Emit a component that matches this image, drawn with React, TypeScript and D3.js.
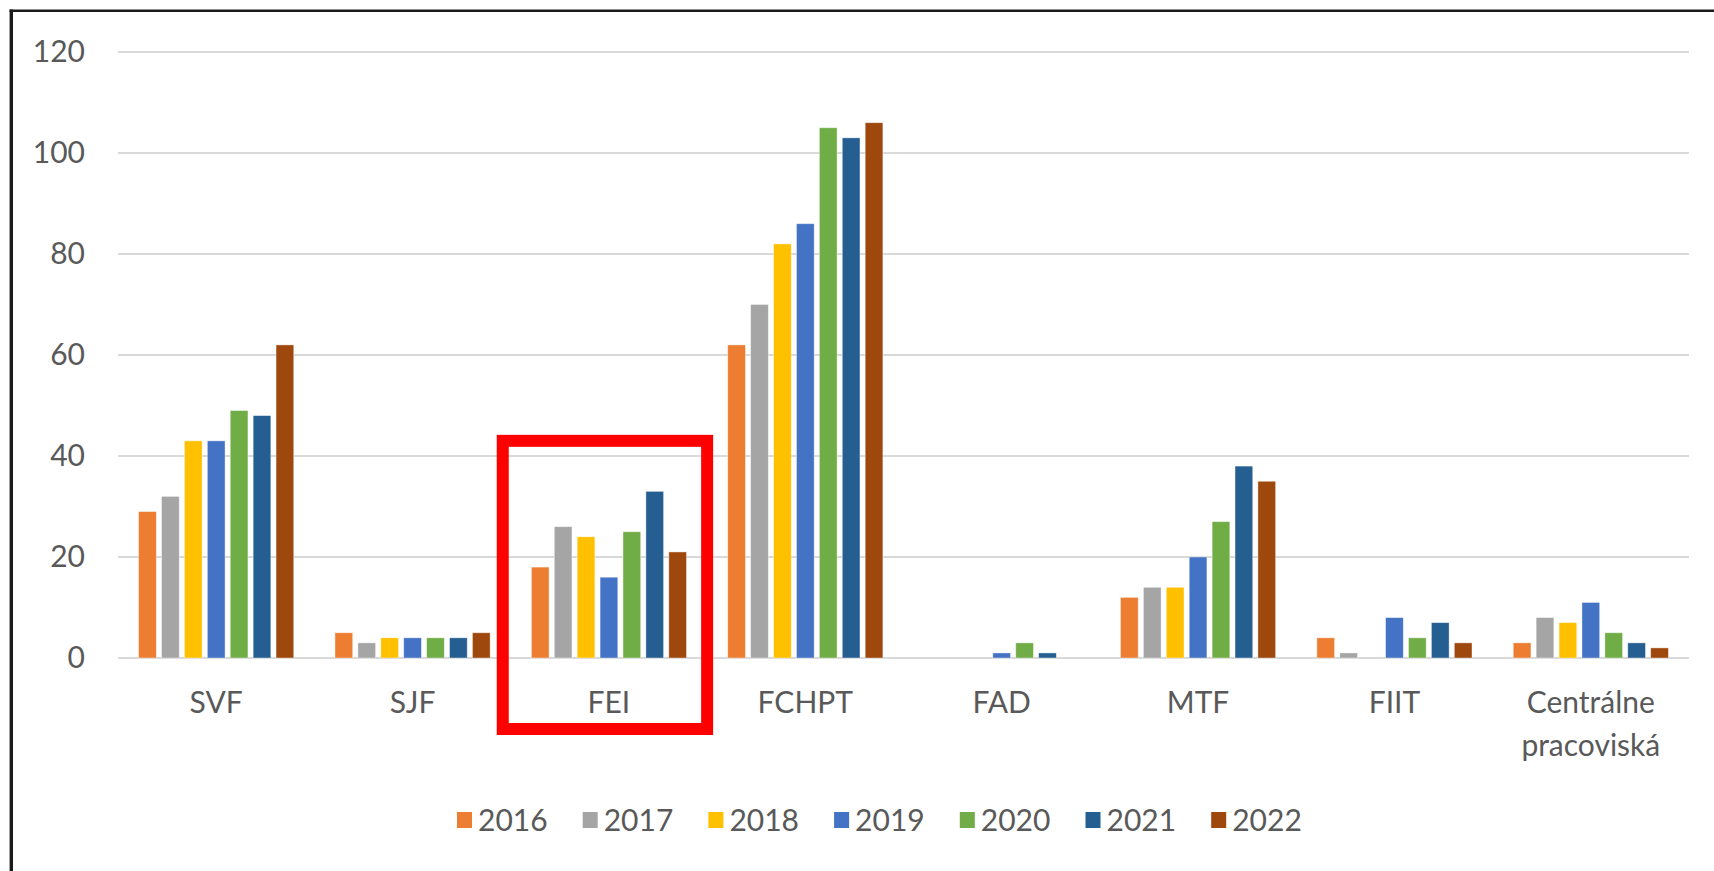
import React from "react";
import * as d3 from "d3";

const categories = ["SVF", "SJF", "FEI", "FCHPT", "FAD", "MTF", "FIIT", "Centrálne\npracoviská"];
const years = ["2016", "2017", "2018", "2019", "2020", "2021", "2022"];
const colors = ["#ED7D31", "#A5A5A5", "#FFC000", "#4472C4", "#70AD47", "#255E91", "#9E480E"];

const v2016 = [29, 5, 18, 62, 0, 12, 4, 3];
const v2017 = [32, 3, 26, 70, 0, 14, 1, 8];
const v2018 = [43, 4, 24, 82, 0, 14, 0, 7];
const v2019 = [43, 4, 16, 86, 1, 20, 8, 11];
const v2020 = [49, 4, 25, 105, 3, 27, 4, 5];
const v2021 = [48, 4, 33, 103, 1, 38, 7, 3];
const v2022 = [62, 5, 21, 106, 0, 35, 3, 2];
const series = [v2016, v2017, v2018, v2019, v2020, v2021, v2022];

const yTicks = [0, 20, 40, 60, 80, 100, 120];
const highlighted = "FEI";

const W = 1714;
const H = 871;
const FONT = "Lato, 'Open Sans', sans-serif";
const TEXT = "#595959";

export default function App() {
  const x = d3.scaleBand<string>().domain(categories).range([118, 1689]).padding(0);
  const bw = x.bandwidth();
  const x1 = d3
    .scaleBand<string>()
    .domain(years)
    .range([bw * 0.105, bw * 0.895])
    .paddingInner(0.227)
    .paddingOuter(0);
  const y = d3.scaleLinear().domain([0, 120]).range([658, 52]);

  const hx = x(highlighted)!;

  return (
    <div style={{ position: "fixed", left: 0, top: 0, width: W, height: H, background: "#fff" }}>
      <svg width={W} height={H} style={{ display: "block" }}>
        <rect x={0} y={0} width={W} height={H} fill="#fff" />
        {/* frame */}
        <line x1={9.5} x2={W} y1={10.7} y2={10.7} stroke="#1a1a1a" strokeWidth={2.6} />
        <line x1={11.3} x2={11.3} y1={9.5} y2={H} stroke="#1a1a1a" strokeWidth={3.4} />

        {/* gridlines */}
        {yTicks.map((t) => (
          <line key={t} x1={118} x2={1689} y1={y(t)} y2={y(t)} stroke="#D9D9D9" strokeWidth={2} />
        ))}
        {/* y tick labels */}
        {yTicks.map((t) => (
          <text key={"l" + t} x={85} y={y(t) + 9.5} textAnchor="end" fontFamily={FONT} fontSize={30} fill={TEXT}>
            {t}
          </text>
        ))}

        {/* bars */}
        {categories.map((c, ci) => (
          <g key={c} transform={`translate(${x(c)},0)`}>
            {years.map((yr, si) => {
              const v = series[si][ci];
              if (v <= 0) return null;
              return (
                <rect
                  key={yr}
                  x={x1(yr)}
                  y={y(v)}
                  width={x1.bandwidth()}
                  height={y(0) - y(v)}
                  fill={colors[si]}
                  stroke="#ffffff"
                  strokeOpacity={0.5}
                  strokeWidth={0.8}
                />
              );
            })}
          </g>
        ))}

        {/* category labels */}
        {categories.map((c) => {
          const lines = c.split("\n");
          return (
            <text key={"c" + c} x={x(c)! + bw / 2} y={713} textAnchor="middle" fontFamily={FONT} fontSize={30} fill={TEXT}>
              {lines.map((ln, i) => (
                <tspan key={i} x={x(c)! + bw / 2} dy={i === 0 ? 0 : 43}>
                  {ln}
                </tspan>
              ))}
            </text>
          );
        })}

        {/* legend */}
        {years.map((yr, i) => {
          const lx = 457 + i * 125.7;
          return (
            <g key={"lg" + yr}>
              <rect x={lx} y={812} width={15} height={16} fill={colors[i]} />
              <text x={lx + 21} y={831} fontFamily={FONT} fontSize={30} fill={TEXT}>
                {yr}
              </text>
            </g>
          );
        })}

        {/* highlight box */}
        <rect
          x={hx - 8}
          y={y(43)}
          width={bw + 8}
          height={729 - y(43)}
          fill="none"
          stroke="#FF0000"
          strokeWidth={12}
        />
      </svg>
    </div>
  );
}
